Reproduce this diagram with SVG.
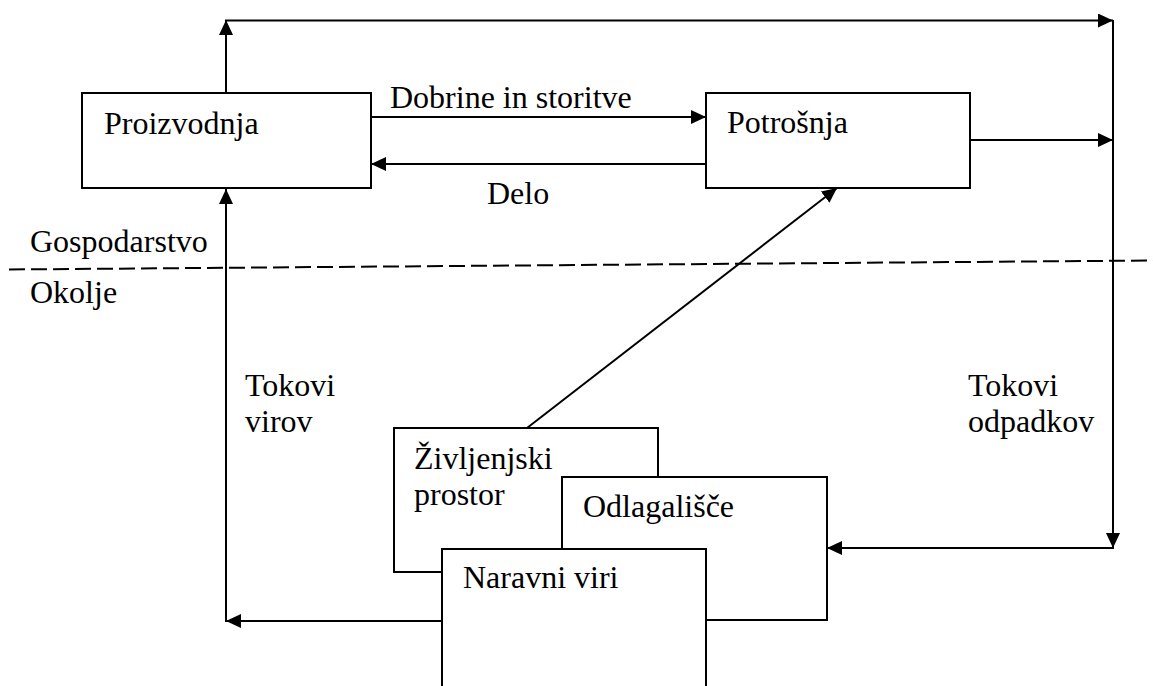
<svg xmlns="http://www.w3.org/2000/svg" width="1153" height="686" viewBox="0 0 1153 686">
<style>
.box{fill:#fff;stroke:#000;stroke-width:2}
.c{fill:none;stroke:#000;stroke-width:2}
.a{marker-end:url(#arr)}
text{font-family:'Liberation Serif','Times New Roman',Times,serif;font-size:32px;fill:#000}
</style>
<defs>
<marker id="arr" markerUnits="userSpaceOnUse" markerWidth="16" markerHeight="15" refX="15" refY="7" orient="auto">
<path d="M0,0 L15,7 L0,14 z" fill="#000"/>
</marker>
</defs>
<rect width="1153" height="686" fill="#fff"/>
<g id="connectors">
<line class="c" x1="9" y1="269.5" x2="1153" y2="260.5" stroke-dasharray="16 6"/>
<line class="c a" x1="226" y1="93" x2="226" y2="20"/>
<line class="c a" x1="225" y1="20.5" x2="1113" y2="20.5"/>
<line class="c a" x1="1113" y1="20" x2="1113" y2="548"/>
<line class="c a" x1="1114" y1="548" x2="827" y2="548"/>
<line class="c a" x1="970" y1="140" x2="1113" y2="140"/>
<line class="c a" x1="371" y1="117" x2="706" y2="117"/>
<line class="c a" x1="706" y1="164" x2="371" y2="164"/>
<line class="c a" x1="527" y1="428" x2="837" y2="188"/>
<line class="c a" x1="442" y1="621" x2="226" y2="621"/>
<line class="c a" x1="226" y1="622" x2="226" y2="189"/>
</g>
<g id="labels" font-family="Liberation Serif, serif">
<text x="390" y="108">Dobrine in storitve</text>
<text x="487" y="204">Delo</text>
<text x="30" y="252">Gospodarstvo</text>
<text x="30" y="303">Okolje</text>
<text x="245" y="396">Tokovi</text>
<text x="245" y="432">virov</text>
<text x="968" y="396">Tokovi</text>
<text x="968" y="432">odpadkov</text>
</g>
<g id="proizvodnja">
<rect class="box" x="82" y="93" width="289" height="95"/>
<text x="104" y="134">Proizvodnja</text>
</g>
<g id="potrosnja">
<rect class="box" x="706" y="93" width="264" height="95"/>
<text x="727" y="133">Potrošnja</text>
</g>
<g id="zivljenjski">
<rect class="box" x="394" y="428" width="264" height="144"/>
<text x="414" y="469">Življenjski</text>
<text x="414" y="505">prostor</text>
</g>
<g id="odlagalisce">
<rect class="box" x="562" y="477" width="265" height="143"/>
<text x="583" y="517">Odlagališče</text>
</g>
<g id="naravni">
<rect class="box" x="442" y="549" width="264" height="160"/>
<text x="463" y="588">Naravni viri</text>
</g>
</svg>
